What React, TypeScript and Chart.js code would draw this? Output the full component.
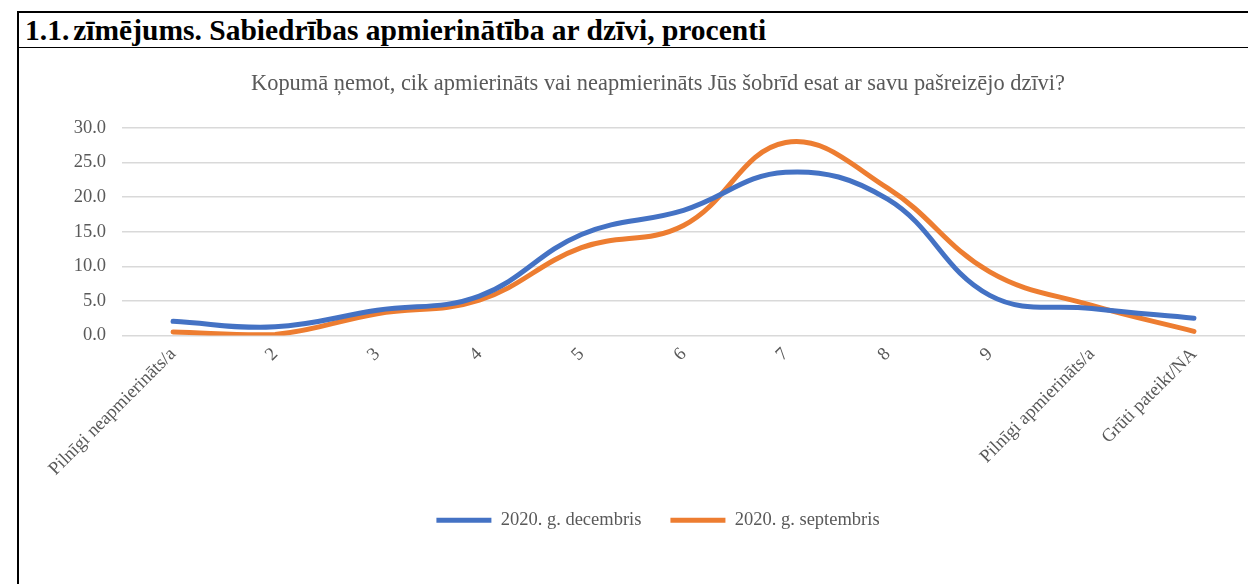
import React, { useEffect, useRef } from 'react';
import { Chart, registerables } from 'chart.js';

Chart.register(...registerables);

const categories = [
  'Pilnīgi neapmierināts/a',
  '2',
  '3',
  '4',
  '5',
  '6',
  '7',
  '8',
  '9',
  'Pilnīgi apmierināts/a',
  'Grūti pateikt/NA',
];
const december = [2.05, 1.25, 3.65, 5.7, 14.6, 18.1, 23.6, 19.7, 5.8, 3.9, 2.5];
const september = [0.5, 0.15, 3.15, 5.1, 12.7, 15.9, 27.9, 21.3, 9.2, 4.35, 0.6];
const seriesNames = ['2020. g. decembris', '2020. g. septembris'];
const chartTitle =
  'Kopumā ņemot, cik apmierināts vai neapmierināts Jūs šobrīd esat ar savu pašreizējo dzīvi?';
const figureNumber = '1.1.';
const figureTitle = 'zīmējums. Sabiedrības apmierinātība ar dzīvi, procenti';

const FONT = '"Liberation Serif", "Times New Roman", serif';
const GREY = '#595959';

export default function App() {
  const ref = useRef<HTMLCanvasElement>(null);

  useEffect(() => {
    const chart = new Chart(ref.current!, {
      type: 'line',
      data: {
        labels: categories,
        datasets: [
          {
            label: seriesNames[0],
            data: december,
            borderColor: '#4472C4',
            backgroundColor: '#4472C4',
            borderWidth: 5,
            borderCapStyle: 'round',
            pointRadius: 0,
            pointStyle: 'line',
            tension: 0.4,
          },
          {
            label: seriesNames[1],
            data: september,
            borderColor: '#ED7D31',
            backgroundColor: '#ED7D31',
            borderWidth: 5,
            borderCapStyle: 'round',
            pointRadius: 0,
            pointStyle: 'line',
            tension: 0.4,
          },
        ],
      },
      options: {
        animation: false,
        responsive: true,
        maintainAspectRatio: false,
        layout: { padding: { left: 51, right: 3, top: 0, bottom: 44.5 } },
        plugins: {
          title: {
            display: true,
            text: chartTitle,
            color: GREY,
            font: { family: FONT, size: 22.4, weight: 'normal' },
            padding: { top: 21.5, bottom: 30.6 },
          },
          legend: {
            position: 'bottom',
            labels: {
              usePointStyle: true,
              pointStyleWidth: 55,
              boxHeight: 18,
              padding: 29,
              color: GREY,
              font: { family: FONT, size: 18.5 },
            },
          },
          tooltip: { enabled: false },
        },
        scales: {
          x: {
            offset: true,
            grid: { display: false, drawTicks: false },
            border: { display: false },
            ticks: {
              minRotation: 45,
              maxRotation: 45,
              autoSkip: false,
              padding: 8,
              color: GREY,
              font: { family: FONT, size: 18.5 },
            },
            afterFit: (s: any) => {
              s.height = 146.5;
            },
          },
          y: {
            min: 0,
            max: 30,
            grid: { color: '#D9D9D9', lineWidth: 1.5, drawTicks: false },
            border: { display: false },
            ticks: {
              stepSize: 5,
              padding: 16,
              color: GREY,
              font: { family: FONT, size: 18.5 },
              callback: (v: any) => Number(v).toFixed(1),
            },
            afterFit: (s: any) => {
              s.width = 51;
            },
          },
        },
      },
    });
    return () => chart.destroy();
  }, []);

  return (
    <div
      style={{
        position: 'fixed',
        left: 0,
        top: 0,
        width: 1248,
        height: 584,
        background: '#fff',
        overflow: 'hidden',
      }}
    >
      <div style={{ position: 'absolute', left: 17, top: 11, width: 1231, height: 2, background: '#000' }} />
      <div style={{ position: 'absolute', left: 17, top: 11, width: 2, height: 573, background: '#000' }} />
      <div style={{ position: 'absolute', left: 17, top: 46.5, width: 1231, height: 1.5, background: '#000' }} />
      <div
        style={{
          position: 'absolute',
          left: 25,
          top: 16,
          font: `bold 29.5px ${FONT}`,
          lineHeight: '29px',
          whiteSpace: 'nowrap',
          color: '#000',
        }}
      >
        <span style={{ marginRight: 4 }}>{figureNumber}</span>
        {figureTitle}
      </div>
      <div style={{ position: 'absolute', left: 20, top: 49, width: 1228, height: 535 }}>
        <canvas ref={ref} />
      </div>
    </div>
  );
}
